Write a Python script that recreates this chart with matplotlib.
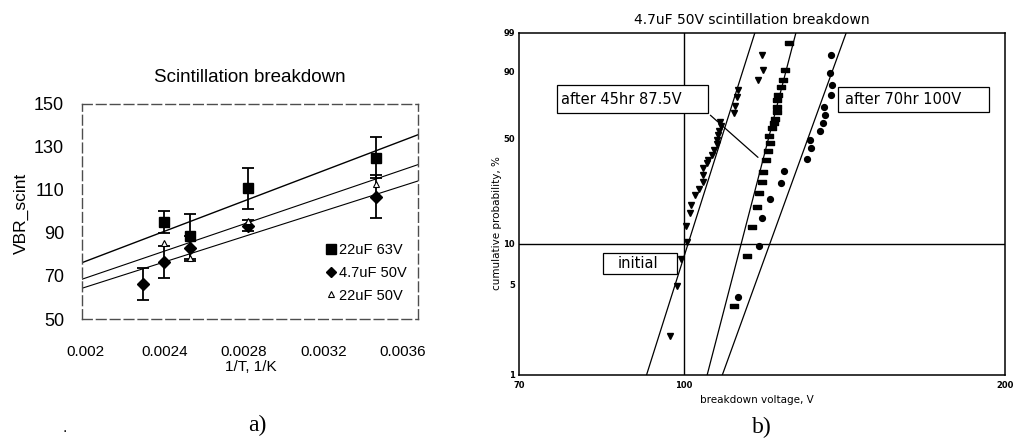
import numpy as np
import matplotlib
matplotlib.use("Agg")
import matplotlib.pyplot as plt
from matplotlib.patches import Rectangle
from matplotlib.lines import Line2D
from matplotlib.ticker import NullLocator, FixedLocator, FixedFormatter

# ---------------- data: panel a) ----------------
a_title = "Scintillation breakdown"
a_xlabel = "1/T, 1/K"
a_ylabel = "VBR_scint"
a_xticks = [0.002, 0.0024, 0.0028, 0.0032, 0.0036]
a_xticklabels = ["0.002", "0.0024", "0.0028", "0.0032", "0.0036"]
a_yticks = [50, 70, 90, 110, 130, 150]

inv_T_63V = [0.002397, 0.002528, 0.00282, 0.003464]
vbr_63V = [95.1, 88.5, 110.8, 125.1]
err_63V = [5.2, 10.5, 9.5, 9.5]

inv_T_47uF = [0.002292, 0.002397, 0.002528, 0.00282, 0.003464]
vbr_47uF = [66.2, 76.6, 82.8, 93.4, 106.9]
err_47uF = [7.5, 7.5, 6.0, 2.5, 10.0]

inv_T_22uF50 = [0.002397, 0.002528, 0.00282, 0.003464]
vbr_22uF50 = [85.4, 78.5, 95.4, 113.0]

fit_x = [0.001985, 0.003675]
fit_63V = [76.2, 135.7]
fit_22uF50 = [68.5, 121.8]
fit_47uF = [64.3, 114.2]

labels_a = ["22uF 63V", "4.7uF 50V", "22uF 50V"]

# ---------------- data: panel b) ----------------
b_title = "4.7uF 50V scintillation breakdown"
b_xlabel = "breakdown voltage, V"
b_ylabel = "cumulative probability, %"
b_xticks = [70, 100, 200]
b_yticks = [1, 5, 10, 50, 90, 99]

init_V = [96.9, 98.4, 99.3, 100.6, 100.3, 101.3, 101.4, 102.4, 103.3, 104.2,
          104.2, 104.2, 105.0, 105.4, 106.3, 106.7, 107.3, 107.3, 107.7, 107.9,
          108.2, 108.1, 111.4, 111.6, 112.2, 112.4, 117.4, 118.5, 118.3]
init_P = [2.0, 4.8, 7.7, 10.4, 13.5, 16.6, 19.2, 22.3, 24.4, 27.4,
          30.3, 33.5, 36.0, 37.7, 40.4, 43.2, 46.7, 49.1, 52.3, 55.0,
          58.1, 60.9, 66.4, 71.2, 77.0, 80.9, 86.3, 90.7, 95.5]

h45_V = [111.4, 114.5, 115.7, 117.0, 117.6, 118.3, 118.7, 119.3, 119.9, 120.4,
         120.2, 120.8, 121.4, 121.7, 122.1, 122.3, 122.3, 122.6, 123.2, 123.7,
         124.3, 125.4]
h45_P = [3.4, 8.1, 13.3, 18.5, 22.9, 27.4, 31.8, 37.7, 42.8, 47.1,
         51.7, 56.6, 59.9, 62.7, 67.5, 70.7, 75.0, 78.0, 82.4, 86.3,
         90.7, 97.8]

h70_V = [112.4, 117.5, 118.3, 120.4, 123.2, 124.2, 130.3, 131.4, 131.3, 134.1,
         134.9, 135.6, 135.4, 137.2, 137.6, 137.0, 137.2]
h70_P = [4.0, 9.6, 15.3, 20.9, 26.8, 32.2, 38.1, 44.2, 49.1, 55.0,
         60.2, 65.3, 70.7, 78.0, 83.7, 89.6, 95.5]

fit_P = [1, 99]
fit_init_V = [92.2, 116.5]
fit_h45_V = [105.1, 127.3]
fit_h70_V = [108.6, 141.9]

grid_V = 100
grid_P = 10

# ---------------- figure ----------------
W, H = 1035, 441
fig = plt.figure(figsize=(W / 100, H / 100), dpi=100)
fig.patch.set_facecolor("white")

def fx(px):
    return px / W

def fy(py):
    return 1 - py / H

# ===== panel a =====
fa = "Liberation Sans"
axa = fig.add_axes([fx(82), fy(319), 336 / W, 215 / H])
for i, ln in enumerate([fit_63V, fit_22uF50, fit_47uF]):
    axa.plot(fit_x, ln, color="black", lw=1.0 if i == 0 else 0.8, zorder=2)

axa.errorbar(inv_T_63V, vbr_63V, yerr=err_63V, fmt="s", color="black", ms=7.5,
             capsize=4, elinewidth=1.3, capthick=1.3, zorder=4)
axa.errorbar(inv_T_47uF, vbr_47uF, yerr=err_47uF, fmt="D", color="black", ms=6.5,
             capsize=4, elinewidth=1.3, capthick=1.3, zorder=4)
axa.plot(inv_T_22uF50, vbr_22uF50, "^", ms=4.5, mfc="white", mec="black", mew=0.8,
         ls="none", zorder=5)

axa.set_xlim(fit_x[0], fit_x[1])
axa.set_ylim(50, 150)
axa.set_xticks(a_xticks)
axa.set_xticklabels(a_xticklabels, fontfamily=fa, fontsize=11)
axa.set_yticks(a_yticks)
axa.set_yticklabels([str(v) for v in a_yticks], fontfamily=fa, fontsize=13)
axa.tick_params(axis="x", length=0, pad=19)
axa.tick_params(axis="y", length=0, pad=13)
for sp in axa.spines.values():
    sp.set_color("0.3")
    sp.set_linewidth(1.0)
    sp.set_linestyle((0, (7, 3)))

axa.set_xlabel(a_xlabel, fontfamily=fa, fontsize=11)
axa.xaxis.set_label_coords((251 - 82) / 336, (319 - 367) / 215)
axa.xaxis.label.set_verticalalignment("center")
axa.set_ylabel(a_ylabel, fontfamily=fa, fontsize=12.5)
axa.yaxis.set_label_coords((21 - 82) / 336, (319 - 213) / 215)
axa.yaxis.label.set_verticalalignment("center")

fig.text(fx(250), fy(78), a_title, ha="center", va="center", fontfamily=fa, fontsize=13.5)

handles = [
    Line2D([], [], marker="s", color="black", ms=7, ls="none"),
    Line2D([], [], marker="D", color="black", ms=5, ls="none"),
    Line2D([], [], marker="^", mfc="white", mec="black", ms=4, mew=0.8, ls="none"),
]
axa.legend(handles, labels_a, loc="center left", bbox_to_anchor=(0.725, 0.215),
           frameon=False, prop={"family": fa, "size": 10.5}, handlelength=0.7,
           handletextpad=0.2, labelspacing=0.6, borderaxespad=0, borderpad=0)

fig.text(fx(257), fy(425), "a)", ha="center", va="center",
         fontfamily="Liberation Serif", fontsize=17)
fig.text(fx(65), fy(428), ".", ha="center", va="center", fontsize=10)

# ===== panel b =====
fb = "DejaVu Sans"
axb = fig.add_axes([fx(519), fy(375), 486 / W, 342 / H])

def wfwd(p):
    p = np.clip(np.asarray(p, dtype=float), 1e-6, 99.99999)
    return np.log(-np.log(1 - p / 100.0))

def winv(w):
    return 100.0 * (1 - np.exp(-np.exp(np.asarray(w, dtype=float))))

axb.set_xscale("log")
axb.set_yscale("function", functions=(wfwd, winv))
axb.set_xlim(70, 200)
axb.set_ylim(1, 99)

axb.axvline(grid_V, color="black", lw=1.0, zorder=1)
axb.axhline(grid_P, color="black", lw=1.0, zorder=1)

for fv in [fit_init_V, fit_h45_V, fit_h70_V]:
    axb.plot(fv, fit_P, color="black", lw=0.9, zorder=2)

rect_marker = [(-1, -0.55), (1, -0.55), (1, 0.55), (-1, 0.55), (-1, -0.55)]
axb.plot(init_V, init_P, "v", color="black", ms=4.5, ls="none", zorder=3)
axb.plot(h45_V, h45_P, marker=rect_marker, color="black", ms=5.5, ls="none", zorder=3)
axb.plot(h70_V, h70_P, "o", color="black", ms=4.2, ls="none", zorder=3)

axb.xaxis.set_major_locator(FixedLocator(b_xticks))
axb.xaxis.set_major_formatter(FixedFormatter([str(v) for v in b_xticks]))
axb.xaxis.set_minor_locator(NullLocator())
axb.yaxis.set_major_locator(FixedLocator(b_yticks))
axb.yaxis.set_major_formatter(FixedFormatter([str(v) for v in b_yticks]))
axb.yaxis.set_minor_locator(NullLocator())
axb.tick_params(axis="both", length=0, labelsize=6)
axb.tick_params(axis="x", pad=4)
axb.tick_params(axis="y", pad=3)
for lbl in axb.get_xticklabels() + axb.get_yticklabels():
    lbl.set_fontweight("bold")
    lbl.set_fontfamily(fb)
for sp in axb.spines.values():
    sp.set_color("black")
    sp.set_linewidth(1.1)

axb.set_xlabel(b_xlabel, fontfamily=fb, fontsize=7.5)
axb.xaxis.set_label_coords(0.49, (375 - 400) / 342)
axb.xaxis.label.set_verticalalignment("center")
axb.set_ylabel(b_ylabel, fontfamily=fb, fontsize=7.5)
axb.yaxis.set_label_coords((497 - 519) / 486, 0.444)
axb.yaxis.label.set_verticalalignment("center")

fig.text(fx(752), fy(20), b_title, ha="center", va="center", fontfamily=fb, fontsize=10)

def tbox(x0, x1, y0, y1, tx, text):
    axb.add_patch(Rectangle((x0, y0), x1 - x0, y1 - y0, transform=axb.transAxes,
                            facecolor="white", edgecolor="black", lw=0.9, zorder=6,
                            clip_on=False))
    axb.text(tx, (y0 + y1) / 2, text, transform=axb.transAxes, ha="left", va="center",
             fontfamily=fb, fontsize=10.5, zorder=7)

tbox(0.0776, 0.3895, 0.765, 0.848, 0.086, "after 45hr 87.5V")
tbox(0.6558, 0.967, 0.769, 0.842, 0.671, "after 70hr 100V")
tbox(0.1735, 0.3245, 0.2944, 0.356, 0.203, "initial")
axb.annotate("", xy=(0.496, 0.631), xytext=(0.3895, 0.765), xycoords="axes fraction",
             textcoords="axes fraction",
             arrowprops=dict(arrowstyle="-", color="black", lw=0.9), zorder=5)

fig.text(fx(762), fy(427), "b)", ha="center", va="center",
         fontfamily="Liberation Serif", fontsize=17)

fig.savefig("out.png", dpi=100, facecolor="white")
